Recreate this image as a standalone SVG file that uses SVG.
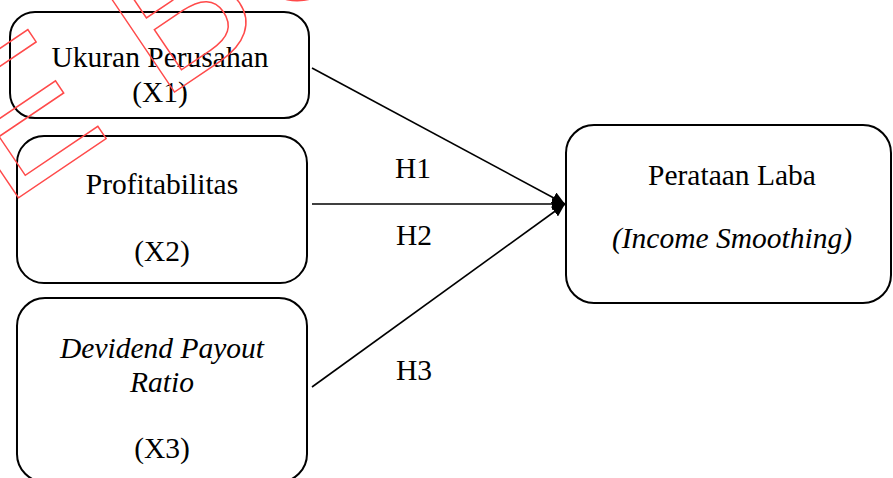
<svg xmlns="http://www.w3.org/2000/svg" width="893" height="478" viewBox="0 0 893 478">
<style>
.box{fill:none;stroke:#000;stroke-width:2}
.t{font-family:"Liberation Serif","Times New Roman",serif;font-size:29.5px;fill:#000;text-anchor:middle}
.i{font-style:italic}
.c{stroke:#000;stroke-width:1.6;fill:none}
.wm{font-family:"Liberation Sans",Arial,sans-serif;font-size:195px;fill:none;stroke:#ff4a4a;stroke-width:1.5}
</style>
<defs>
<marker id="ah" markerUnits="userSpaceOnUse" markerWidth="14" markerHeight="12" refX="13" refY="6" orient="auto">
<path d="M0,0 L13,6 L0,12 z" fill="#000"/>
</marker>
</defs>
<rect width="893" height="478" fill="#fff"/>
<g id="connectors">
<line class="c" x1="312" y1="68" x2="565" y2="204" marker-end="url(#ah)"/>
<line class="c" x1="312" y1="204" x2="565" y2="204" marker-end="url(#ah)"/>
<line class="c" x1="312" y1="387" x2="565" y2="204" marker-end="url(#ah)"/>
<text class="t" x="413" y="178">H1</text>
<text class="t" x="414" y="245">H2</text>
<text class="t" x="414" y="380">H3</text>
</g>
<g id="x1">
<rect class="box" x="10" y="12" width="299" height="106" rx="25"/>
<text class="t" x="160" y="67">Ukuran Perusahan</text>
<text class="t" x="160" y="102">(X1)</text>
</g>
<g id="x2">
<rect class="box" x="17" y="136" width="290" height="147" rx="27"/>
<text class="t" x="162" y="194">Profitabilitas</text>
<text class="t" x="162" y="261">(X2)</text>
</g>
<g id="x3">
<rect class="box" x="17" y="298" width="290" height="184" rx="28"/>
<text class="t i" x="162" y="358">Devidend Payout</text>
<text class="t i" x="162" y="392">Ratio</text>
<text class="t" x="162" y="458">(X3)</text>
</g>
<g id="y">
<rect class="box" x="566" y="125" width="325" height="178" rx="28"/>
<text class="t" x="732" y="185">Perataan Laba</text>
<text class="t i" x="732" y="248">(Income Smoothing)</text>
</g>
<g id="watermark">
<text class="wm" transform="translate(5.3,206.7) rotate(-34)">E</text>
<text class="wm" transform="translate(161.2,100.9) rotate(-34)">B</text>
<text class="wm" transform="translate(272.2,26.6) rotate(-34)">U</text>
</g>
</svg>
